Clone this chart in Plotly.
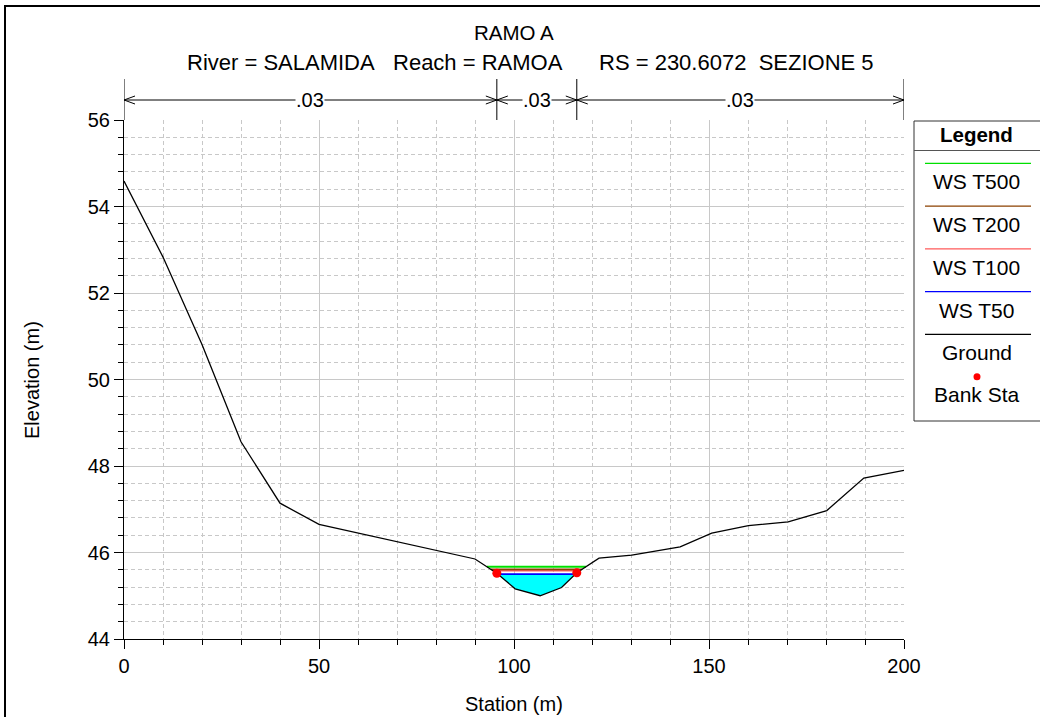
import numpy as np
import plotly.graph_objects as go

# ---------------- data ----------------
station = [0, 10, 20, 30, 40, 50, 90, 95.6, 100.3, 106.7, 112.2, 116.1,
           121.8, 130.2, 142.6, 150.7, 160.1, 170.3, 180.2, 189.7, 200]
elevation = [54.59, 52.83, 50.81, 48.56, 47.14, 46.65, 45.85, 45.52, 45.16,
             45.00, 45.19, 45.53, 45.87, 45.94, 46.13, 46.45, 46.62, 46.71,
             46.97, 47.72, 47.90]
bank_sta = [95.6, 116.1]
ws_names = ["WS T500", "WS T200", "WS T100", "WS T50"]
ws_elev = [45.67, 45.61, 45.58, 45.50]
n_breaks = [0, 95.6, 116.1, 200]
n_values = [".03", ".03", ".03"]
x_ticks = [0, 50, 100, 150, 200]
y_ticks = [44, 46, 48, 50, 52, 54, 56]
title_text = "RAMO A"
subtitle_text = "River = SALAMIDA   Reach = RAMOA      RS = 230.6072  SEZIONE 5"
x_title = "Station (m)"
y_title = "Elevation (m)"
legend_title = "Legend"

# ---------------- styles ----------------
ws_colors = ["#00e000", "#8b4000", "#ff5a5a", "#0000ff"]
FONT = "Liberation Sans, Arial, sans-serif"
W, H = 1040, 717
L, R, T, B = 124, 904, 120, 639  # plot area pixels


def xp(px):
    return (px - L) / (R - L)


def yp(py):
    return (B - py) / (B - T)


sta = np.array(station, dtype=float)
el = np.array(elevation, dtype=float)


def crossings(ws):
    imin = int(np.argmin(el))
    i = imin
    while i > 0 and el[i - 1] < ws:
        i -= 1
    xl = sta[i - 1] + (ws - el[i - 1]) * (sta[i] - sta[i - 1]) / (el[i] - el[i - 1])
    j = imin
    while j < len(el) - 1 and el[j + 1] < ws:
        j += 1
    xr = sta[j] + (ws - el[j]) * (sta[j + 1] - sta[j]) / (el[j + 1] - el[j])
    return xl, xr, i, j


fig = go.Figure()

# water fill below the lowest profile
low = int(np.argmin(ws_elev))
xl, xr, i0, j0 = crossings(ws_elev[low])
fx = [xl] + list(sta[i0:j0 + 1]) + [xr, xl]
fy = [ws_elev[low]] + list(el[i0:j0 + 1]) + [ws_elev[low], ws_elev[low]]
fig.add_trace(go.Scatter(x=fx, y=fy, mode="lines", fill="toself",
                         fillcolor="#00ffff", line=dict(width=0),
                         hoverinfo="skip", showlegend=False))

# water surfaces
for k in reversed(range(len(ws_names))):
    a, b, _, _ = crossings(ws_elev[k])
    fig.add_trace(go.Scatter(x=[a, b], y=[ws_elev[k], ws_elev[k]], mode="lines",
                             line=dict(color=ws_colors[k], width=1.8),
                             name=ws_names[k], showlegend=False))

# ground
fig.add_trace(go.Scatter(x=station, y=elevation, mode="lines",
                         line=dict(color="black", width=1.3),
                         name="Ground", showlegend=False))

# bank stations
bank_el = list(np.interp(bank_sta, sta, el))
fig.add_trace(go.Scatter(x=bank_sta, y=bank_el, mode="markers",
                         marker=dict(color="red", size=9),
                         name="Bank Sta", showlegend=False))

shapes = []
annotations = []


def note(x, y, text, size, xref="paper", yref="paper", **kw):
    annotations.append(dict(x=x, y=y, xref=xref, yref=yref, text=text,
                            showarrow=False, xanchor="center", yanchor="middle",
                            font=dict(size=size, color="black", family=FONT), **kw))


# outer frame
shapes.append(dict(type="rect", xref="paper", yref="paper",
                   x0=xp(5), x1=xp(1046), y0=yp(6), y1=yp(725),
                   line=dict(color="black", width=2)))

# Manning's n arrows
ya = yp(100)
for bx in n_breaks:
    shapes.append(dict(type="line", xref="x", yref="paper", x0=bx, x1=bx,
                       y0=1.0, y1=yp(79), line=dict(color="black", width=1)))
for k in range(len(n_values)):
    x0, x1 = n_breaks[k], n_breaks[k + 1]
    shapes.append(dict(type="line", xref="x", yref="paper", x0=x0, x1=x1,
                       y0=ya, y1=ya, line=dict(color="black", width=1)))
    shapes.append(dict(type="path", xref="x", yref="paper",
                       xsizemode="pixel", ysizemode="pixel",
                       xanchor=x0, yanchor=ya, path="M 11 4 L 0 0 L 11 -4",
                       line=dict(color="black", width=1)))
    shapes.append(dict(type="path", xref="x", yref="paper",
                       xsizemode="pixel", ysizemode="pixel",
                       xanchor=x1, yanchor=ya, path="M -11 4 L 0 0 L -11 -4",
                       line=dict(color="black", width=1)))
    note((x0 + x1) / 2, ya, n_values[k], 20, xref="x", bgcolor="white", borderpad=0)

# titles
note(xp(514), yp(32), title_text, 20.5)
note(xp(530), yp(62), subtitle_text.replace(" ", "&nbsp;"), 22)
note(xp(514), yp(704), x_title, 20)
note(xp(32), yp(380), y_title, 20, textangle=-90)

# legend box
lx0, lx1 = 914, 1046
shapes.append(dict(type="rect", xref="paper", yref="paper",
                   x0=xp(lx0), x1=xp(lx1), y0=yp(121), y1=yp(421),
                   line=dict(color="#333333", width=1), fillcolor="white"))
shapes.append(dict(type="line", xref="paper", yref="paper",
                   x0=xp(lx0), x1=xp(lx1), y0=yp(150.5), y1=yp(150.5),
                   line=dict(color="#555555", width=1)))
cx = 977
note(xp(cx), yp(134), "<b>" + legend_title + "</b>", 20.5)
leg_names = ws_names + ["Ground"]
leg_colors = ws_colors + ["black"]
for k, (nm, col) in enumerate(zip(leg_names, leg_colors)):
    ly = 163.3 + 42.75 * k
    shapes.append(dict(type="line", xref="paper", yref="paper",
                       x0=xp(925), x1=xp(1031), y0=yp(ly), y1=yp(ly),
                       line=dict(color=col, width=1.3)))
    note(xp(cx), yp(ly + 18.5), nm, 21)
shapes.append(dict(type="circle", xref="paper", yref="paper",
                   x0=xp(cx - 3.5), x1=xp(cx + 3.5), y0=yp(373.2), y1=yp(380.2),
                   fillcolor="red", line=dict(color="red", width=0)))
note(xp(cx), yp(395), "Bank Sta", 21)

grid_col = "#c8c8c8"
fig.update_layout(
    width=W, height=H,
    margin=dict(l=L, r=W - R, t=T, b=H - B),
    paper_bgcolor="white", plot_bgcolor="white",
    font=dict(family=FONT, size=20, color="black"),
    showlegend=False,
    shapes=shapes, annotations=annotations,
    xaxis=dict(range=[0, 200], tickvals=x_ticks, ticks="outside", ticklen=9,
               tickcolor="black", showline=True, linecolor="black", linewidth=1,
               showgrid=True, gridcolor=grid_col, gridwidth=1, zeroline=False,
               tickfont=dict(size=20),
               minor=dict(dtick=10, tick0=0, ticks="outside", ticklen=5,
                          tickcolor="black", showgrid=True, gridcolor=grid_col,
                          griddash="4px,3px", gridwidth=1)),
    yaxis=dict(range=[44, 56], tickvals=y_ticks, ticks="outside", ticklen=9,
               tickcolor="black", showline=True, linecolor="black", linewidth=1,
               showgrid=True, gridcolor=grid_col, gridwidth=1, zeroline=False,
               tickfont=dict(size=20),
               minor=dict(dtick=0.4, tick0=44, ticks="outside", ticklen=5,
                          tickcolor="black", showgrid=True, gridcolor=grid_col,
                          griddash="4px,3px", gridwidth=1)),
)

fig.write_html("out.html", config={"displayModeBar": False},
               post_script="document.body.style.margin='0';"
                           "document.body.style.overflow='hidden';")
